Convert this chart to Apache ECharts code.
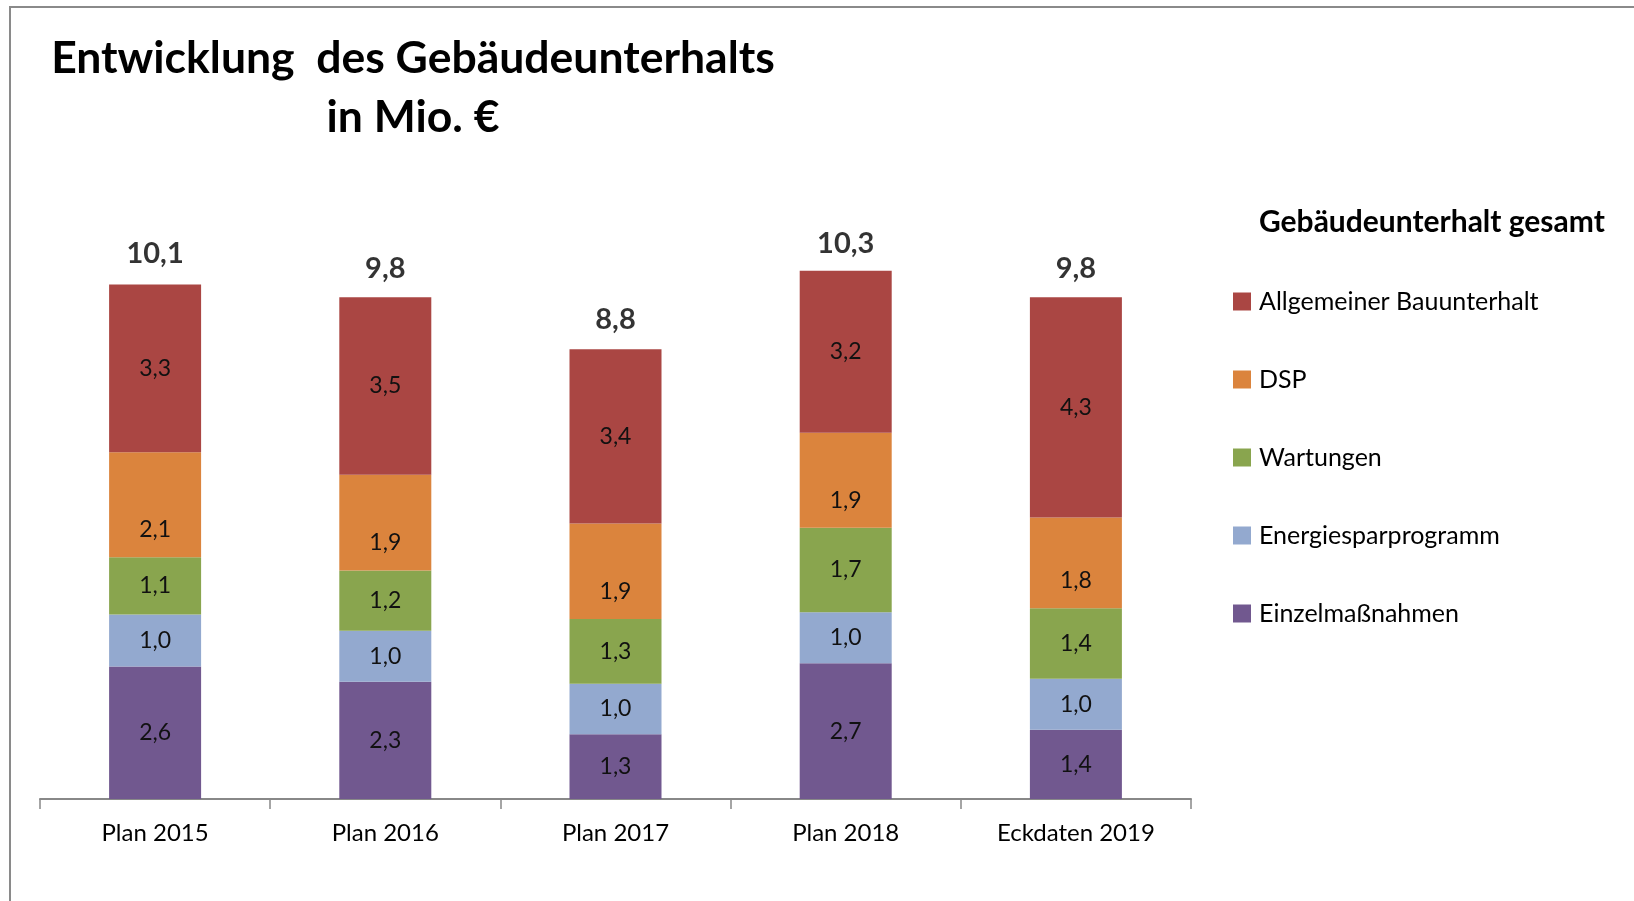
<!DOCTYPE html>
<html>
<head>
<meta charset="utf-8">
<script src="https://cdn.jsdelivr.net/npm/echarts@6/dist/echarts.min.js"></script>
<style>
html,body{margin:0;padding:0;background:#fff;}
#chart{width:1634px;height:901px;}
</style>
</head>
<body>
<div id="chart"></div>
<script>
var categories = ['Plan 2015', 'Plan 2016', 'Plan 2017', 'Plan 2018', 'Eckdaten 2019'];
var einzelmassnahmen = [2.60, 2.30, 1.27, 2.66, 1.36];
var energiesparprogramm = [1.02, 1.00, 0.99, 1.00, 1.00];
var wartungen = [1.12, 1.18, 1.27, 1.66, 1.38];
var dsp = [2.06, 1.88, 1.87, 1.86, 1.78];
var allgemeiner = [3.29, 3.48, 3.42, 3.18, 4.32];
var totals = [10.1, 9.8, 8.8, 10.3, 9.8];

var FONT = 'Lato, "Open Sans", sans-serif';
function fmt(v) { return Number(v).toFixed(1).replace('.', ','); }

var segLabel = {
  show: true,
  position: 'inside',
  fontFamily: FONT,
  fontSize: 23,
  color: '#111',
  formatter: function (p) { return fmt(p.value); }
};

function seg(name, data, color, label) {
  return {
    name: name,
    type: 'bar',
    stack: 'total',
    data: data,
    barWidth: 92,
    itemStyle: { color: color },
    label: label || segLabel,
    emphasis: { disabled: true }
  };
}

var chart = echarts.init(document.getElementById('chart'));
chart.setOption({
  animation: false,
  backgroundColor: '#fff',
  graphic: [
    { type: 'rect', shape: { x: 10, y: 7, width: 1700, height: 1000 },
      style: { fill: 'none', stroke: '#8a8a8a', lineWidth: 2 }, silent: true },
    { type: 'text', x: 413, y: 59,
      style: { text: 'Entwicklung  des Gebäudeunterhalts', fontFamily: FONT, fontWeight: 'bold',
               fontSize: 44.5, fill: '#000', textAlign: 'center', textVerticalAlign: 'middle' } },
    { type: 'text', x: 413, y: 118,
      style: { text: 'in Mio. €', fontFamily: FONT, fontWeight: 'bold',
               fontSize: 44.5, fill: '#000', textAlign: 'center', textVerticalAlign: 'middle' } },
    { type: 'text', x: 1259, y: 222,
      style: { text: 'Gebäudeunterhalt gesamt', fontFamily: FONT, fontWeight: 'bold',
               fontSize: 30, fill: '#000', textAlign: 'left', textVerticalAlign: 'middle' } }
  ],
  legend: {
    orient: 'vertical',
    left: 1228,
    top: 284,
    itemWidth: 18,
    itemHeight: 18,
    itemGap: 53,
    icon: 'rect',
    selectedMode: false,
    data: ['Allgemeiner Bauunterhalt', 'DSP', 'Wartungen', 'Energiesparprogramm', 'Einzelmaßnahmen'],
    textStyle: { fontFamily: FONT, fontSize: 25, color: '#000', lineHeight: 22, padding: [0, 0, 0, 3] }
  },
  grid: { left: 40, right: 443, top: 187, bottom: 102 },
  xAxis: {
    type: 'category',
    data: categories,
    axisLine: { lineStyle: { color: '#888', width: 2 } },
    axisTick: { show: true, length: 10, lineStyle: { color: '#888', width: 1.5 } },
    axisLabel: { fontFamily: FONT, fontSize: 24, color: '#000', margin: 22 }
  },
  yAxis: {
    type: 'value',
    min: 0,
    max: 12,
    show: false,
    splitLine: { show: false }
  },
  series: [
    seg('Einzelmaßnahmen', einzelmassnahmen, '#71588F'),
    seg('Energiesparprogramm', energiesparprogramm, '#93A9CF'),
    seg('Wartungen', wartungen, '#89A54E'),
    seg('DSP', dsp, '#DB843D', Object.assign({}, segLabel, { position: 'insideBottom', distance: 16 })),
    seg('Allgemeiner Bauunterhalt', allgemeiner, '#AA4643'),
    {
      name: 'Gesamt',
      type: 'scatter',
      data: totals,
      symbolSize: 0,
      silent: true,
      label: {
        show: true,
        position: 'top',
        distance: 16,
        fontFamily: FONT,
        fontWeight: 'bold',
        fontSize: 29,
        color: '#000',
        formatter: function (p) { return fmt(p.value); }
      }
    }
  ]
});
</script>
</body>
</html>
